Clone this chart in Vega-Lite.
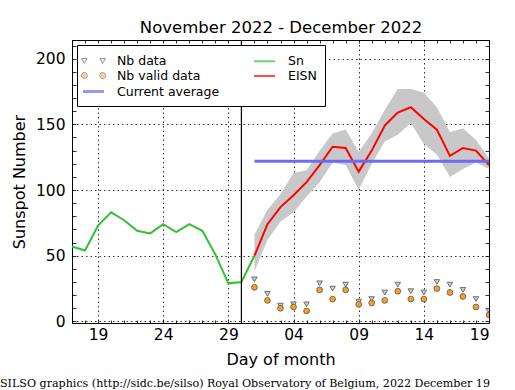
{
  "$schema": "https://vega.github.io/schema/vega-lite/v6.json",
  "autosize": {"type": "none"},
  "width": 417,
  "height": 283,
  "padding": {"left": 72, "top": 40, "right": 26, "bottom": 67},
  "background": "white",
  "config": {
    "font": "DejaVu Sans",
    "view": {"stroke": "black", "strokeWidth": 1},
    "axis": {
      "labelFont": "DejaVu Sans", "titleFont": "DejaVu Sans",
      "labelColor": "black", "titleColor": "black", "titleFontWeight": "normal",
      "domain": false, "gridColor": "black", "gridDash": [1.5, 3], "gridWidth": 0.8, "gridOpacity": 1,
      "tickColor": "black", "tickWidth": 0.8
    }
  },
  "title": {
    "text": "SILSO graphics (http://sidc.be/silso) Royal Observatory of Belgium, 2022 December 19",
    "orient": "bottom", "anchor": "start", "frame": "group", "dx": -72, "offset": 10,
    "font": "DejaVu Serif", "fontSize": 11.1, "fontWeight": "normal", "color": "black"
  },
  "datasets": {
    "sn": [
      {"date": "2022-11-17", "sn": 57},
      {"date": "2022-11-18", "sn": 54},
      {"date": "2022-11-19", "sn": 73},
      {"date": "2022-11-20", "sn": 83},
      {"date": "2022-11-21", "sn": 77},
      {"date": "2022-11-22", "sn": 69},
      {"date": "2022-11-23", "sn": 67},
      {"date": "2022-11-24", "sn": 74},
      {"date": "2022-11-25", "sn": 68},
      {"date": "2022-11-26", "sn": 74},
      {"date": "2022-11-27", "sn": 69},
      {"date": "2022-11-28", "sn": 51},
      {"date": "2022-11-29", "sn": 29},
      {"date": "2022-11-30", "sn": 30},
      {"date": "2022-12-01", "sn": 50}
    ],
    "eisn": [
      {"date": "2022-12-01", "eisn": 50, "lo": 38, "hi": 66, "nb": 32, "nbv": 26},
      {"date": "2022-12-02", "eisn": 74, "lo": 62, "hi": 85, "nb": 21, "nbv": 16},
      {"date": "2022-12-03", "eisn": 87, "lo": 76, "hi": 97, "nb": 12, "nbv": 10},
      {"date": "2022-12-04", "eisn": 96, "lo": 83, "hi": 113, "nb": 13, "nbv": 11},
      {"date": "2022-12-05", "eisn": 106, "lo": 95, "hi": 115, "nb": 13, "nbv": 8},
      {"date": "2022-12-06", "eisn": 119, "lo": 106, "hi": 130, "nb": 29, "nbv": 24},
      {"date": "2022-12-07", "eisn": 133, "lo": 121, "hi": 143, "nb": 25, "nbv": 17},
      {"date": "2022-12-08", "eisn": 132, "lo": 119, "hi": 146, "nb": 28, "nbv": 24},
      {"date": "2022-12-09", "eisn": 114, "lo": 100, "hi": 129, "nb": 15, "nbv": 13},
      {"date": "2022-12-10", "eisn": 130, "lo": 120, "hi": 143, "nb": 17, "nbv": 14},
      {"date": "2022-12-11", "eisn": 149, "lo": 137, "hi": 161, "nb": 22, "nbv": 16},
      {"date": "2022-12-12", "eisn": 159, "lo": 142, "hi": 177, "nb": 28, "nbv": 23},
      {"date": "2022-12-13", "eisn": 163, "lo": 151, "hi": 177, "nb": 23, "nbv": 17},
      {"date": "2022-12-14", "eisn": 154, "lo": 135, "hi": 174, "nb": 22, "nbv": 17},
      {"date": "2022-12-15", "eisn": 146, "lo": 127, "hi": 163, "nb": 30, "nbv": 25},
      {"date": "2022-12-16", "eisn": 126, "lo": 110, "hi": 144, "nb": 28, "nbv": 22},
      {"date": "2022-12-17", "eisn": 132, "lo": 116, "hi": 147, "nb": 24, "nbv": 19},
      {"date": "2022-12-18", "eisn": 130, "lo": 121, "hi": 138, "nb": 17, "nbv": 11},
      {"date": "2022-12-19", "eisn": 119, "lo": 116, "hi": 124, "nb": 8, "nbv": 5}
    ],
    "avg": [{"start": "2022-12-01", "end": "2022-12-19", "avg": 122}],
    "marker": [{"date": "2022-11-30"}],
    "legend": [
      {"item": "Nb data", "date": "2022-12-01", "v": -100},
      {"item": "Nb valid data", "date": "2022-12-01", "v": -100},
      {"item": "Current average", "date": "2022-12-01", "v": -100},
      {"item": "Sn", "date": "2022-12-01", "v": -100},
      {"item": "EISN", "date": "2022-12-01", "v": -100}
    ]
  },
  "layer": [
    {
      "data": {"name": "eisn"},
      "mark": {"type": "area", "color": "#c8c8c8", "opacity": 1},
      "encoding": {
        "x": {"field": "date", "type": "temporal",
          "scale": {"type": "utc", "domain": [{"year": 2022, "month": 11, "date": 17, "utc": true}, {"year": 2022, "month": 12, "date": 19, "utc": true}]},
          "axis": {"orient": "bottom", "format": "%d", "ticks": false, "labelFontSize": 15.5, "labelPadding": 4, "grid": true,
            "title": "Day of month", "titleFontSize": 16, "titlePadding": 9,
            "values": [
              {"year": 2022, "month": 11, "date": 19, "utc": true},
              {"year": 2022, "month": 11, "date": 24, "utc": true},
              {"year": 2022, "month": 11, "date": 29, "utc": true},
              {"year": 2022, "month": 12, "date": 4, "utc": true},
              {"year": 2022, "month": 12, "date": 9, "utc": true},
              {"year": 2022, "month": 12, "date": 14, "utc": true},
              {"year": 2022, "month": 12, "date": 19, "utc": true}
            ]}},
        "y": {"field": "lo", "type": "quantitative",
          "scale": {"domain": [-1.2, 214.2], "nice": false, "zero": false},
          "axis": {"orient": "left", "values": [0, 50, 100, 150, 200], "ticks": false, "labelFontSize": 15.5, "labelPadding": 7,
            "grid": true, "title": "Sunspot Number", "titleFontSize": 16, "titlePadding": 8}},
        "y2": {"field": "hi"}
      }
    },
    {
      "data": {"name": "sn"},
      "mark": {"type": "line", "color": "#33c033", "strokeWidth": 2},
      "encoding": {
        "x": {"field": "date", "type": "temporal",
          "axis": {"orient": "bottom", "tickCount": {"interval": "day", "step": 1}, "labels": false, "grid": false, "tickSize": -3, "title": null}},
        "y": {"field": "sn", "type": "quantitative",
          "axis": {"orient": "left", "values": [0, 10, 20, 30, 40, 50, 60, 70, 80, 90, 100, 110, 120, 130, 140, 150, 160, 170, 180, 190, 200, 210],
            "labels": false, "grid": false, "tickSize": -4, "title": null}}
      }
    },
    {
      "data": {"name": "eisn"},
      "mark": {"type": "line", "color": "#ff0000", "strokeWidth": 2},
      "encoding": {
        "x": {"field": "date", "type": "temporal",
          "axis": {"orient": "top", "tickCount": {"interval": "day", "step": 1}, "labels": false, "grid": false, "tickSize": -3,
            "title": "November 2022 - December 2022", "titleFontSize": 16.5, "titlePadding": 4}},
        "y": {"field": "eisn", "type": "quantitative",
          "axis": {"orient": "right", "values": [0, 10, 20, 30, 40, 50, 60, 70, 80, 90, 100, 110, 120, 130, 140, 150, 160, 170, 180, 190, 200, 210],
            "labels": false, "grid": false, "tickSize": -4, "title": null}}
      }
    },
    {
      "data": {"name": "avg"},
      "mark": {"type": "rule", "color": "#6b6bf5", "strokeWidth": 3},
      "encoding": {
        "x": {"field": "start", "type": "temporal", "axis": null},
        "x2": {"field": "end"},
        "y": {"field": "avg", "type": "quantitative", "axis": null}
      }
    },
    {
      "data": {"name": "marker"},
      "mark": {"type": "rule", "color": "black", "strokeWidth": 1.2},
      "encoding": {
        "x": {"field": "date", "type": "temporal", "axis": null}
      }
    },
    {
      "data": {"name": "eisn"},
      "mark": {"type": "point", "shape": "triangle-down", "filled": true, "fill": "#cfcfcf", "stroke": "#505050", "strokeWidth": 0.8, "size": 30, "opacity": 1, "clip": true},
      "encoding": {
        "x": {"field": "date", "type": "temporal", "axis": null},
        "y": {"field": "nb", "type": "quantitative", "axis": null}
      }
    },
    {
      "data": {"name": "eisn"},
      "mark": {"type": "point", "shape": "circle", "filled": true, "fill": "#f0a030", "stroke": "#333333", "strokeWidth": 0.6, "size": 34, "opacity": 1, "clip": true},
      "encoding": {
        "x": {"field": "date", "type": "temporal", "axis": null},
        "y": {"field": "nbv", "type": "quantitative", "axis": null}
      }
    },
    {
      "data": {"name": "legend"},
      "mark": {"type": "point", "clip": true},
      "encoding": {
        "x": {"field": "date", "type": "temporal", "axis": null},
        "y": {"field": "v", "type": "quantitative", "axis": null},
        "fill": {"field": "item", "type": "nominal",
          "scale": {"domain": ["Nb data", "Nb valid data", "Current average", "Sn", "EISN"],
            "range": ["#cfcfcf", "#f0a030", "#6b6bf5", "#33c033", "#ff0000"]},
          "legend": {"title": null, "orient": "top-left", "offset": 5, "columns": 2, "strokeColor": "black", "fillColor": "white",
            "padding": 8, "symbolSize": 196, "labelFontSize": 12.5, "labelFont": "DejaVu Sans", "labelColor": "black",
            "columnPadding": 30, "rowPadding": -2, "labelOffset": 15, "cornerRadius": 0}},
        "stroke": {"field": "item", "type": "nominal",
          "scale": {"domain": ["Nb data", "Nb valid data", "Current average", "Sn", "EISN"],
            "range": ["#505050", "#333333", "#6b6bf5", "#33c033", "#ff0000"]},
          "legend": {"title": null}},
        "shape": {"field": "item", "type": "nominal",
          "scale": {"domain": ["Nb data", "Nb valid data", "Current average", "Sn", "EISN"],
            "range": ["M-1.71,-0.36 L-0.91,-0.36 L-1.31,0.36 Z M0.91,-0.36 L1.71,-0.36 L1.31,0.36 Z",
              "M-0.88,0 A0.43,0.43 0 1,0 -1.74,0 A0.43,0.43 0 1,0 -0.88,0 Z M1.74,0 A0.43,0.43 0 1,0 0.88,0 A0.43,0.43 0 1,0 1.74,0 Z",
              "M-1.5,0 L1.5,0", "M-1.5,0 L1.5,0", "M-1.5,0 L1.5,0"]},
          "legend": {"title": null}},
        "strokeWidth": {"field": "item", "type": "ordinal",
          "scale": {"type": "ordinal", "domain": ["Nb data", "Nb valid data", "Current average", "Sn", "EISN"],
            "range": [0.8, 0.6, 3, 2, 2]},
          "legend": {"title": null}}
      }
    }
  ],
  "resolve": {"axis": {"x": "independent", "y": "independent"}}
}
